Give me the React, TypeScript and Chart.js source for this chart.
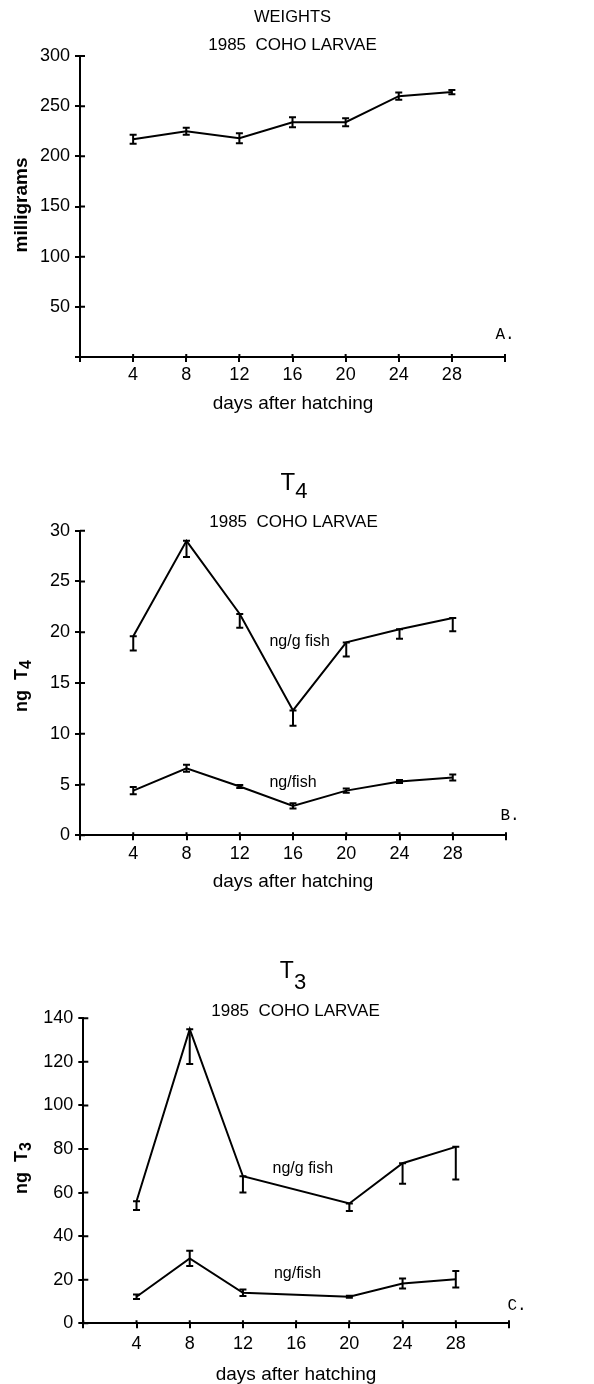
import React, { useEffect, useRef } from "react";
import { Chart, registerables } from "chart.js";

Chart.register(...registerables);

const FONT = "'Liberation Sans', Arial, sans-serif";
const MONO = "'Liberation Mono', 'DejaVu Sans Mono', monospace";

// ---------- data ----------
const days = [4, 8, 12, 16, 20, 24, 28];

const weightMg = [217, 225, 218, 234, 234, 260, 264];
const weightSem = [4.5, 3.5, 5, 5, 4, 3.5, 2];

const t4NgPerGram = [19.6, 29.0, 21.8, 12.3, 19.0, 20.3, 21.4];
const t4NgPerGramSem = [1.4, 1.6, 1.35, 1.5, 1.4, 0.95, 1.3];
const t4NgPerFish = [4.4, 6.6, 4.8, 2.9, 4.4, 5.3, 5.7];
const t4NgPerFishSem = [0.35, 0.35, 0.15, 0.25, 0.2, 0.15, 0.3];

const t3NgPerGram = [56, 135, 67.5, null, 55, 73.5, 81];
const t3NgPerGramSem = [4, 16, 7.5, null, 3.5, 9.5, 15];
const t3NgPerFish = [12.2, 29.8, 14, null, 12.2, 18.3, 20.2];
const t3NgPerFishSem = [1, 3.5, 1.5, null, 0.5, 2.3, 3.8];

const subtitle = "1985  COHO LARVAE";
const xTitle = "days after hatching";

type Series = { values: (number | null)[]; err: (number | null)[]; mode: "down" | "both" };
type TextItem = {
  text: string;
  sub?: string;
  font: string;
  subFont?: string;
  subDrop?: number;
  x: number;
  y: number;
  data?: boolean; // x,y in data units
  baseline?: "middle" | "alphabetic";
  rotate?: boolean;
};

type PanelSpec = {
  top: number;
  height: number;
  area: { left: number; right: number; top: number; bottom: number };
  yMax: number;
  yStep: number;
  hideZero: boolean;
  xPad: number;
  series: Series[];
  texts: TextItem[];
};

const panels: PanelSpec[] = [
  {
    top: 0,
    height: 420,
    area: { left: 80, right: 505, top: 56, bottom: 357 },
    yMax: 300,
    yStep: 50,
    hideZero: true,
    xPad: 2,
    series: [{ values: weightMg, err: weightSem, mode: "both" }],
    texts: [
      { text: "WEIGHTS", font: `16.5px ${FONT}`, x: 292.5, y: 17 },
      { text: subtitle, font: `17px ${FONT}`, x: 292.5, y: 45 },
      { text: xTitle, font: `19px ${FONT}`, x: 293, y: 404 },
      { text: "A.", font: `16px ${MONO}`, x: 505, y: 335 },
      { text: "milligrams", font: `bold 19px ${FONT}`, x: 22, y: 205, rotate: true },
    ],
  },
  {
    top: 420,
    height: 480,
    area: { left: 80, right: 506, top: 110.7, bottom: 415.3 },
    yMax: 30,
    yStep: 5,
    hideZero: false,
    xPad: 3,
    series: [
      { values: t4NgPerGram, err: t4NgPerGramSem, mode: "down" },
      { values: t4NgPerFish, err: t4NgPerFishSem, mode: "both" },
    ],
    texts: [
      { text: "T", sub: "4", font: `24px ${FONT}`, subFont: `22px ${FONT}`, subDrop: 8, x: 294, y: 70, baseline: "alphabetic" },
      { text: subtitle, font: `17px ${FONT}`, x: 293.5, y: 102 },
      { text: xTitle, font: `19px ${FONT}`, x: 293, y: 462 },
      { text: "B.", font: `16px ${MONO}`, x: 510, y: 396 },
      { text: "ng  T", sub: "4", font: `bold 18px ${FONT}`, subFont: `bold 16px ${FONT}`, subDrop: 5, x: 22, y: 266, rotate: true },
      { text: "ng/g fish", font: `16px ${FONT}`, x: 16.5, y: 19.1, data: true },
      { text: "ng/fish", font: `16px ${FONT}`, x: 16.0, y: 5.2, data: true },
    ],
  },
  {
    top: 900,
    height: 484,
    area: { left: 83.3, right: 509, top: 118.3, bottom: 423.3 },
    yMax: 140,
    yStep: 20,
    hideZero: false,
    xPad: 5,
    series: [
      { values: t3NgPerGram, err: t3NgPerGramSem, mode: "down" },
      { values: t3NgPerFish, err: t3NgPerFishSem, mode: "both" },
    ],
    texts: [
      { text: "T", sub: "3", font: `23px ${FONT}`, subFont: `22px ${FONT}`, subDrop: 11, x: 293, y: 78, baseline: "alphabetic" },
      { text: subtitle, font: `17px ${FONT}`, x: 295.5, y: 111.5 },
      { text: xTitle, font: `19px ${FONT}`, x: 296, y: 475 },
      { text: "C.", font: `16px ${MONO}`, x: 517, y: 406 },
      { text: "ng  T", sub: "3", font: `bold 18px ${FONT}`, subFont: `bold 16px ${FONT}`, subDrop: 5, x: 22, y: 268, rotate: true },
      { text: "ng/g fish", font: `16px ${FONT}`, x: 16.5, y: 71, data: true },
      { text: "ng/fish", font: `16px ${FONT}`, x: 16.1, y: 23, data: true },
    ],
  },
];

function drawRich(ctx: CanvasRenderingContext2D, t: TextItem, cx: number, cy: number) {
  ctx.textAlign = "left";
  ctx.textBaseline = t.baseline || "middle";
  ctx.font = t.font;
  const w1 = ctx.measureText(t.text).width;
  let w2 = 0;
  if (t.sub) {
    ctx.font = t.subFont || t.font;
    w2 = ctx.measureText(t.sub).width;
  }
  const x0 = cx - (w1 + w2) / 2;
  ctx.font = t.font;
  ctx.fillText(t.text, x0, cy);
  if (t.sub) {
    ctx.font = t.subFont || t.font;
    ctx.fillText(t.sub, x0 + w1, cy + (t.subDrop || 0));
  }
}

function buildConfig(spec: PanelSpec): any {
  const axisCommon = {
    grid: {
      display: true,
      drawOnChartArea: false,
      drawTicks: true,
      tickLength: 5,
      lineWidth: 2,
      color: "#000",
    },
    border: { display: true, width: 2, color: "#000" },
  };

  const decorPlugin = {
    id: "decor" + spec.top,
    afterDatasetsDraw(chart: any) {
      const ctx: CanvasRenderingContext2D = chart.ctx;
      const xs = chart.scales.x;
      const ys = chart.scales.y;
      ctx.save();
      ctx.strokeStyle = "#000";
      ctx.lineWidth = 2;
      ctx.lineCap = "butt";
      spec.series.forEach((s) => {
        days.forEach((d, i) => {
          const v = s.values[i];
          const e = s.err[i];
          if (v == null || e == null || e <= 0) return;
          const px = xs.getPixelForValue(d);
          const yTop = ys.getPixelForValue(s.mode === "both" ? v + e : v);
          const yBot = ys.getPixelForValue(v - e);
          ctx.beginPath();
          ctx.moveTo(px, yTop);
          ctx.lineTo(px, yBot);
          ctx.moveTo(px - 3.5, yTop);
          ctx.lineTo(px + 3.5, yTop);
          ctx.moveTo(px - 3.5, yBot);
          ctx.lineTo(px + 3.5, yBot);
          ctx.stroke();
        });
      });
      ctx.restore();
    },
    afterDraw(chart: any) {
      const ctx: CanvasRenderingContext2D = chart.ctx;
      const xs = chart.scales.x;
      const ys = chart.scales.y;
      const area = chart.chartArea;
      ctx.save();
      ctx.strokeStyle = "#000";
      ctx.lineWidth = 2;
      // inward halves of the crossing tick marks
      ctx.beginPath();
      xs.ticks.forEach((t: any) => {
        const px = xs.getPixelForValue(t.value);
        ctx.moveTo(px, area.bottom);
        ctx.lineTo(px, area.bottom - 3);
      });
      ys.ticks.forEach((t: any) => {
        const py = ys.getPixelForValue(t.value);
        ctx.moveTo(area.left, py);
        ctx.lineTo(area.left + 5, py);
      });
      ctx.stroke();
      // texts
      ctx.fillStyle = "#000";
      spec.texts.forEach((t) => {
        let cx = t.x;
        let cy = t.y;
        if (t.data) {
          cx = xs.getPixelForValue(t.x);
          cy = ys.getPixelForValue(t.y);
        }
        if (t.rotate) {
          ctx.save();
          ctx.translate(cx, cy);
          ctx.rotate(-Math.PI / 2);
          drawRich(ctx, t, 0, 0);
          ctx.restore();
        } else {
          drawRich(ctx, t, cx, cy);
        }
      });
      ctx.restore();
    },
  };

  return {
    type: "line",
    data: {
      datasets: spec.series.map((s) => ({
        data: days.map((d, i) => ({ x: d, y: s.values[i] })),
        borderColor: "#000",
        backgroundColor: "#000",
        borderWidth: 2,
        pointRadius: 0,
        tension: 0,
        fill: false,
        spanGaps: true,
      })),
    },
    options: {
      responsive: false,
      maintainAspectRatio: false,
      animation: false,
      devicePixelRatio: 1,
      layout: {
        padding: { top: spec.area.top, right: 594 - spec.area.right, left: 0, bottom: 0 },
      },
      plugins: { legend: { display: false }, tooltip: { enabled: false }, title: { display: false } },
      scales: {
        x: {
          type: "linear",
          min: 0,
          max: 32,
          afterFit: (s: any) => {
            s.height = spec.height - spec.area.bottom;
          },
          ticks: {
            stepSize: 4,
            autoSkip: false,
            maxRotation: 0,
            padding: spec.xPad,
            color: "#000",
            font: { family: FONT, size: 18 },
            callback: (v: any) => (v === 0 || v === 32 ? "" : String(v)),
          },
          ...axisCommon,
        },
        y: {
          type: "linear",
          min: 0,
          max: spec.yMax,
          afterFit: (s: any) => {
            s.width = spec.area.left;
          },
          ticks: {
            stepSize: spec.yStep,
            padding: 5,
            color: "#000",
            font: { family: FONT, size: 18 },
            callback: (v: any) => (v === 0 && spec.hideZero ? "" : String(v)),
          },
          ...axisCommon,
        },
      },
    },
    plugins: [decorPlugin],
  };
}

function Panel({ spec }: { spec: PanelSpec }) {
  const ref = useRef<HTMLCanvasElement>(null);
  useEffect(() => {
    if (!ref.current) return;
    const chart = new Chart(ref.current, buildConfig(spec));
    return () => chart.destroy();
  }, [spec]);
  return (
    <canvas
      ref={ref}
      width={594}
      height={spec.height}
      style={{ position: "absolute", left: 0, top: spec.top, width: 594, height: spec.height, display: "block" }}
    />
  );
}

export default function App() {
  return (
    <div style={{ position: "absolute", left: 0, top: 0, width: 594, height: 1384, background: "#fff" }}>
      {panels.map((p) => (
        <Panel key={p.top} spec={p} />
      ))}
    </div>
  );
}
